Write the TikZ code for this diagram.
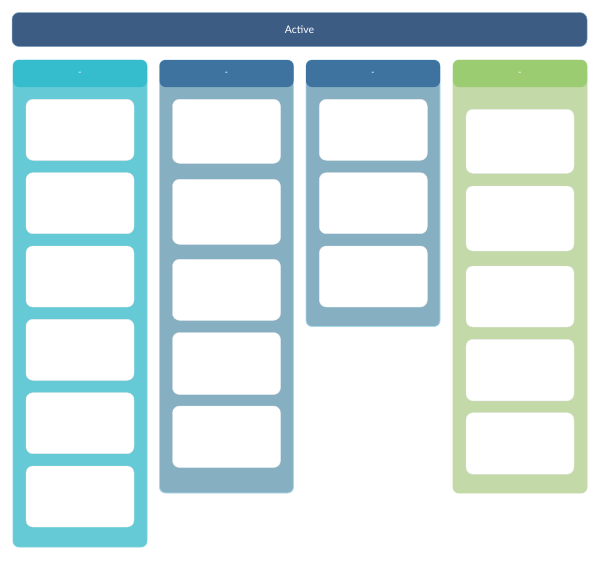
\documentclass[tikz,border=0pt]{standalone}
\usepackage{fontspec}
\setmainfont{Lato}
\definecolor{topbar}{HTML}{3D5C84}
\definecolor{h1}{HTML}{35BDCE}
\definecolor{b1}{HTML}{66CAD6}
\definecolor{h2}{HTML}{3E73A0}
\definecolor{b2}{HTML}{87AFC2}
\definecolor{h4}{HTML}{9CCC72}
\definecolor{b4}{HTML}{C3D9A7}
\definecolor{edge}{HTML}{A9D9EC}
\tikzset{
  box/.style={anchor=north west, inner sep=0pt, outer sep=0pt, rounded corners=6pt},
  colbody/.style={box, line width=0.8pt},
  colhead/.style={box, text=white, font=\fontsize{9.5}{10}\selectfont},
  card/.style={box, fill=white, draw=white!92!black, line width=0.4pt, rounded corners=7pt},
}
\begin{document}
\begin{tikzpicture}[x=1pt,y=-1pt]
\useasboundingbox (0,0) rectangle (600,560);
\fill[white] (0,0) rectangle (600,560);
% top bar
\node[box, fill=topbar, draw=edge!60!topbar, line width=0.5pt, minimum width=575pt, minimum height=34pt, rounded corners=7pt,
      text=white, font=\fontsize{10.5}{12}\selectfont] (active) at (12,12.5) {Active};
% column bodies
\node[colbody, fill=b1, draw=b1!85!white, minimum width=134pt, minimum height=487pt] (c1) at (13,60) {};
\node[colbody, fill=b2, draw=edge, minimum width=134pt, minimum height=433pt] (c2) at (159.5,60) {};
\node[colbody, fill=b2, draw=edge, minimum width=134pt, minimum height=266.5pt] (c3) at (306,60) {};
\node[colbody, fill=b4, draw=b4, minimum width=134pt, minimum height=433pt] (c4) at (453,60) {};
% headers
\node[colhead, fill=h1, minimum width=134pt, minimum height=27pt] (h1) at (13,60) {-};
\node[colhead, fill=h2, minimum width=134pt, minimum height=27pt] (h2) at (159.5,60) {-};
\node[colhead, fill=h2, minimum width=134pt, minimum height=27pt] (h3) at (306,60) {-};
\node[colhead, fill=h4, minimum width=134pt, minimum height=27pt] (h4) at (453,60) {-};
% column 1 cards
\node[card, minimum width=108pt, minimum height=61pt] (a1) at (26,99.3) {};
\node[card, minimum width=108pt, minimum height=61pt] (a2) at (26,172.7) {};
\node[card, minimum width=108pt, minimum height=61pt] (a3) at (26,246) {};
\node[card, minimum width=108pt, minimum height=61pt] (a4) at (26,319.3) {};
\node[card, minimum width=108pt, minimum height=61pt] (a5) at (26,392.7) {};
\node[card, minimum width=108pt, minimum height=61pt] (a6) at (26,466) {};
% column 2 cards
\node[card, minimum width=108pt, minimum height=64pt] (b1c) at (172.5,99.3) {};
\node[card, minimum width=108pt, minimum height=65pt] (b2c) at (172.5,179.3) {};
\node[card, minimum width=108pt, minimum height=61pt] (b3c) at (172.5,259.3) {};
\node[card, minimum width=108pt, minimum height=62pt] (b4c) at (172.5,332.5) {};
\node[card, minimum width=108pt, minimum height=61.5pt] (b5c) at (172.5,406) {};
% column 3 cards
\node[card, minimum width=108pt, minimum height=61pt] (d1) at (319.3,99.3) {};
\node[card, minimum width=108pt, minimum height=61pt] (d2) at (319.3,172.7) {};
\node[card, minimum width=108pt, minimum height=61pt] (d3) at (319.3,246) {};
% column 4 cards
\node[card, minimum width=108pt, minimum height=64pt] (e1) at (466,109.3) {};
\node[card, minimum width=108pt, minimum height=65pt] (e2) at (466,186) {};
\node[card, minimum width=108pt, minimum height=61pt] (e3) at (466,266) {};
\node[card, minimum width=108pt, minimum height=61.5pt] (e4) at (466,339.3) {};
\node[card, minimum width=108pt, minimum height=61.5pt] (e5) at (466,412.7) {};
\end{tikzpicture}
\end{document}
